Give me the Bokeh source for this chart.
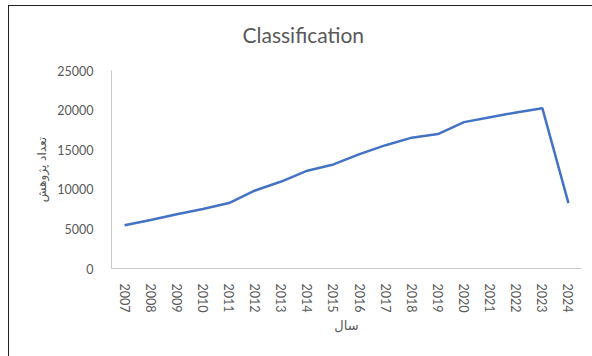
from bokeh.plotting import figure
from bokeh.models import FactorRange, Range1d, Title
from bokeh.embed import file_html
from bokeh.resources import INLINE

years = ["2007", "2008", "2009", "2010", "2011", "2012", "2013", "2014", "2015",
         "2016", "2017", "2018", "2019", "2020", "2021", "2022", "2023", "2024"]
counts = [5450, 6130, 6850, 7510, 8260, 9850, 10980, 12350, 13140,
          14440, 15570, 16520, 16980, 18480, 19110, 19700, 20240, 8260]
y_ticks = [0, 5000, 10000, 15000, 20000, 25000]
title_text = "Classification"
x_label = "سال"
y_label = "تعداد پژوهش"

p = figure(width=592, height=356, output_backend="svg", toolbar_location=None,
           x_range=FactorRange(factors=years, range_padding=0),
           y_range=Range1d(0, 25000),
           min_border_left=111, min_border_right=11, min_border_top=69, min_border_bottom=88)
p.title = None
t = Title(text=title_text, text_font="Lato", text_font_size="21px", text_color="#595959",
          text_font_style="normal", align="left", offset=131, standoff=43,
          vertical_align="top")
p.add_layout(t, "above")

p.line(x=years, y=counts, line_color="#4472C4", line_width=2.5)

p.xgrid.visible = False
p.ygrid.visible = False
p.outline_line_color = None

p.yaxis.ticker = y_ticks
p.yaxis.axis_line_color = "#c8c8c8"
p.yaxis.major_tick_line_color = None
p.yaxis.minor_tick_line_color = None
p.yaxis.major_label_text_font = "Lato"
p.yaxis.major_label_text_font_size = "12.5px"
p.yaxis.major_label_text_color = "#595959"
p.yaxis.major_label_standoff = 12
p.yaxis.axis_label = y_label
p.yaxis.axis_label_text_font = "DejaVu Sans"
p.yaxis.axis_label_text_font_size = "12px"
p.yaxis.axis_label_text_font_style = "normal"
p.yaxis.axis_label_text_color = "#595959"
p.yaxis.axis_label_standoff = 5

p.xaxis.axis_line_color = "#c8c8c8"
p.xaxis.major_tick_line_color = None
p.xaxis.minor_tick_line_color = None
p.xaxis.major_label_orientation = "vertical"
p.xaxis.major_label_text_font = "Lato"
p.xaxis.major_label_text_font_size = "12.5px"
p.xaxis.major_label_text_color = "#595959"
p.xaxis.major_label_standoff = 9
p.xaxis.axis_label = x_label
p.xaxis.axis_label_text_font = "DejaVu Sans"
p.xaxis.axis_label_text_font_size = "13px"
p.xaxis.axis_label_text_font_style = "normal"
p.xaxis.axis_label_text_color = "#595959"
p.xaxis.axis_label_standoff = 3

html = file_html(p, INLINE)
frame_css = ("<style>body::before{content:'';position:fixed;left:8px;top:5px;right:-10px;"
             "bottom:-10px;border-left:1.5px solid #202020;border-top:1.5px solid #202020;"
             "pointer-events:none;z-index:10;}</style></head>")
html = html.replace("</head>", frame_css, 1)
open("out.html", "w").write(html)
